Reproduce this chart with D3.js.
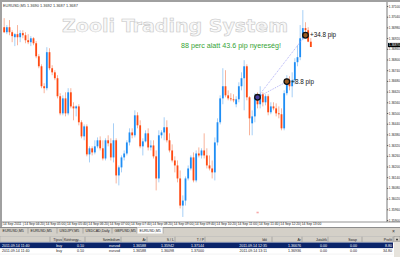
<!DOCTYPE html>
<html>
<head>
<meta charset="utf-8">
<script src="https://cdn.jsdelivr.net/npm/d3@7/dist/d3.min.js"></script>
<style>
  body { margin: 0; background: #d4d0c8; }
  svg { display: block; font-family: "Liberation Sans", Arial, sans-serif; }
</style>
</head>
<body>
<svg width="400" height="257"></svg>
<script>
// EURUSD M5, 14 Sep 2011 - one candle per 5 min, first one is 03:45
var opens = [1.36981,1.36953,1.36981,1.36953,1.36925,1.36942,1.36925,1.36948,1.36936,1.36908,
  1.36897,1.36919,1.36891,1.36818,1.36762,1.36650,1.36639,1.36841,1.36751,1.36728,
  1.36695,1.36594,1.36498,1.36582,1.36498,1.36616,1.36537,1.36526,1.36537,1.36448,
  1.36369,1.36425,1.36268,1.36302,1.36279,1.36313,1.36347,1.36302,1.36245,1.36347,
  1.36330,1.36251,1.36347,1.36150,1.36195,1.36251,1.36273,1.36335,1.36391,1.36375,
  1.36487,1.36431,1.36313,1.36341,1.36386,1.36307,1.36318,1.36257,1.36133,1.36375,
  1.36391,1.36420,1.36347,1.36290,1.36234,1.36206,1.36133,1.35981,1.36009,1.36133,
  1.36189,1.36251,1.36122,1.36273,1.36262,1.36290,1.36262,1.36206,1.36189,1.36167,
  1.36335,1.36448,1.36582,1.36650,1.36599,1.36582,1.36577,1.36549,1.36577,1.36650,
  1.36695,1.36762,1.36588,1.36442,1.36481,1.36588,1.36549,1.36605,1.36560,1.36594,
  1.36504,1.36537,1.36526,1.36498,1.36493,1.36414,1.36611,1.36684,1.36650,1.36684,
  1.36785,1.36813,1.36919,1.36976,1.36964,1.36900];
var highs = [1.37032,1.36993,1.37021,1.36964,1.36948,1.36993,1.36964,1.36964,1.36953,1.36942,
  1.36931,1.36925,1.36903,1.36830,1.36773,1.36667,1.36869,1.36863,1.36768,1.36740,
  1.36712,1.36611,1.36599,1.36616,1.36639,1.36639,1.36560,1.36543,1.36549,1.36459,
  1.36436,1.36436,1.36313,1.36313,1.36347,1.36363,1.36369,1.36347,1.36358,1.36375,
  1.36358,1.36442,1.36358,1.36206,1.36262,1.36290,1.36347,1.36414,1.36414,1.36515,
  1.36504,1.36459,1.36358,1.36403,1.36414,1.36347,1.36347,1.36290,1.36403,1.36403,
  1.36476,1.36459,1.36386,1.36324,1.36257,1.36234,1.36178,1.36038,1.36144,1.36206,
  1.36262,1.36279,1.36290,1.36307,1.36302,1.36386,1.36302,1.36262,1.36234,1.36363,
  1.36470,1.36599,1.36751,1.36740,1.36627,1.36611,1.36605,1.36594,1.36672,1.36728,
  1.36796,1.36773,1.36594,1.36515,1.36611,1.36616,1.36650,1.36616,1.36605,1.36605,
  1.36560,1.36560,1.36554,1.36537,1.36526,1.36627,1.36712,1.36706,1.36728,1.36807,
  1.36880,1.36993,1.37077,1.37009,1.36981,1.36920];
var lows = [1.36948,1.36942,1.36936,1.36897,1.36875,1.36880,1.36897,1.36919,1.36891,1.36886,
  1.36875,1.36880,1.36807,1.36751,1.36639,1.36611,1.36627,1.36740,1.36712,1.36684,
  1.36582,1.36487,1.36487,1.36481,1.36487,1.36526,1.36459,1.36481,1.36431,1.36358,
  1.36347,1.36257,1.36223,1.36262,1.36268,1.36302,1.36290,1.36234,1.36234,1.36313,
  1.36234,1.36223,1.36105,1.36094,1.36167,1.36234,1.36262,1.36318,1.36358,1.36363,
  1.36414,1.36302,1.36262,1.36335,1.36290,1.36290,1.36245,1.36066,1.36111,1.36358,
  1.36347,1.36335,1.36279,1.36223,1.36167,1.36111,1.35965,1.35917,1.35981,1.36122,
  1.36178,1.36111,1.36111,1.36251,1.36245,1.36245,1.36189,1.36178,1.36133,1.36122,
  1.36318,1.36436,1.36549,1.36588,1.36571,1.36566,1.36560,1.36532,1.36560,1.36627,
  1.36515,1.36571,1.36375,1.36375,1.36448,1.36526,1.36526,1.36537,1.36543,1.36487,
  1.36493,1.36515,1.36481,1.36470,1.36403,1.36403,1.36599,1.36627,1.36588,1.36661,
  1.36762,1.36796,1.36908,1.36931,1.36897,1.36870];
var closes = [1.36953,1.36981,1.36953,1.36931,1.36942,1.36925,1.36948,1.36936,1.36908,1.36897,
  1.36919,1.36891,1.36818,1.36762,1.36650,1.36639,1.36841,1.36751,1.36728,1.36695,
  1.36594,1.36498,1.36582,1.36498,1.36616,1.36537,1.36526,1.36537,1.36448,1.36369,
  1.36425,1.36268,1.36302,1.36279,1.36313,1.36347,1.36302,1.36245,1.36347,1.36330,
  1.36251,1.36347,1.36150,1.36195,1.36251,1.36273,1.36335,1.36391,1.36375,1.36487,
  1.36431,1.36313,1.36341,1.36386,1.36307,1.36318,1.36257,1.36133,1.36375,1.36391,
  1.36420,1.36347,1.36290,1.36234,1.36206,1.36133,1.35981,1.36009,1.36133,1.36189,
  1.36251,1.36122,1.36273,1.36262,1.36290,1.36262,1.36206,1.36189,1.36167,1.36335,
  1.36448,1.36582,1.36650,1.36599,1.36582,1.36577,1.36571,1.36577,1.36650,1.36695,
  1.36762,1.36588,1.36470,1.36481,1.36588,1.36549,1.36605,1.36560,1.36594,1.36504,
  1.36537,1.36526,1.36498,1.36493,1.36414,1.36611,1.36684,1.36650,1.36684,1.36785,
  1.36813,1.36919,1.36976,1.36964,1.36900,1.36870];
var firstBar = 1; // bar 0 = 03:40, where the first time label sits

var timeLabels = ["14 Sep 2011","14 Sep 04:20","14 Sep 05:00","14 Sep 05:40","14 Sep 06:20",
  "14 Sep 07:00","14 Sep 07:40","14 Sep 08:20","14 Sep 09:00","14 Sep 09:40","14 Sep 10:20",
  "14 Sep 11:00","14 Sep 11:40","14 Sep 12:20","14 Sep 13:00"];
var timeBars = [0,8,16,24,32,40,48,56,64,72,80,88,96,104,112];

var priceTicks = [1.37100,1.37040,1.36980,1.36920,1.36860,1.36800,1.36740,1.36680,1.36620,
  1.36560,1.36500,1.36440,1.36380,1.36320,1.36260,1.36200,1.36140,1.36080,1.36020,1.35960,1.35900];
var lastPrice = 1.36870;
var headerText = "EURUSD,M5  1.3690 1.3692 1.3687 1.3687";

// the two buy orders
var entryBar = 96, entryPrice = 1.36588, stopLoss = 1.35942;
var exitBars = [107, 114];
var exitPrices = [1.36676, 1.36936];
var exitLabels = ["+8.8 pip", "+34.8 pip"];

var tabNames = ["EURUSD,M5","EURUSD,M5","USDJPY,M5","USDCAD,Daily","GBPUSD,M5","EURUSD,M5"];
var colHeads = ["","Típus","Kötésegy...","Szimbólum","Ár","S / L","T / P","Idő","Ár","Jutalék","Swap","Profit"];
var orderRows = [
  ["2011.09.14 11:40","buy","0.10","eurusd","1.36588","1.35942","1.37144","2011.09.14 12:35","1.36676","0.00","0.00","8.80"],
  ["2011.09.14 11:40","buy","0.10","eurusd","1.36588","1.36098","1.37000","2011.09.14 13:11","1.36936","0.00","0.00","34.80"]
];

var svg = d3.select("svg");
var W = 400, H = 257;
var chartR = 387, chartB = 222;

// window frame
svg.append("rect").attr("width", W).attr("height", H).attr("fill", "#d4d0c8");
svg.append("rect").attr("width", W).attr("height", 228).attr("fill", "#a0a0a0");
svg.append("rect").attr("x", 2).attr("y", 2).attr("width", W - 2).attr("height", 225).attr("fill", "#fff");

var x = d3.scaleLinear().domain([0, 144]).range([1.5, 385.5]);
var y = d3.scaleLinear().domain([1.359, 1.371]).range([220, 6]);

svg.append("clipPath").attr("id", "clip")
  .append("rect").attr("x", 2).attr("y", 2).attr("width", chartR - 2).attr("height", chartB - 2);
var plot = svg.append("g").attr("clip-path", "url(#clip)");

// watermark + header
plot.append("text")
  .attr("x", 62).attr("y", 32)
  .attr("textLength", 226).attr("lengthAdjust", "spacingAndGlyphs")
  .style("font-family", "'DejaVu Sans', sans-serif").style("font-weight", "bold").style("font-size", "18px")
  .attr("fill", "#f8f8f8").attr("stroke", "#c4c4c4").attr("stroke-width", 0.55)
  .text("Zooli Trading System");

plot.append("text").attr("x", 3).attr("y", 6.5)
  .style("font-size", "3.9px").attr("fill", "#333").text(headerText);

plot.append("text").attr("x", 181).attr("y", 48)
  .attr("textLength", 100).attr("lengthAdjust", "spacingAndGlyphs")
  .style("font-size", "6.6px").attr("fill", "#36a336")
  .text("88 perc alatt 43.6 pip nyereség!");

// candles
var bars = opens.map(function(o, k) {
  return {i: k + firstBar, o: o, h: highs[k], l: lows[k], c: closes[k]};
});
function up(d) { return d.c >= d.o; }

plot.selectAll("line.wick").data(bars).enter().append("line")
  .attr("class", "wick")
  .attr("x1", function(d) { return x(d.i); }).attr("x2", function(d) { return x(d.i); })
  .attr("y1", function(d) { return y(d.h); }).attr("y2", function(d) { return y(d.l); })
  .attr("stroke", function(d) { return up(d) ? "#a6cff6" : "#f8b39b"; })
  .attr("stroke-width", 1);

plot.selectAll("rect.body").data(bars).enter().append("rect")
  .attr("class", "body")
  .attr("x", function(d) { return x(d.i) - 0.9; })
  .attr("width", 1.8)
  .attr("y", function(d) { return Math.min(y(d.o), y(d.c)); })
  .attr("height", function(d) { return Math.max(0.8, Math.abs(y(d.o) - y(d.c))); })
  .attr("fill", function(d) { return up(d) ? "#1e8ef5" : "#ff4a12"; });

// trade lines, markers, labels
exitBars.forEach(function(b, k) {
  plot.append("line")
    .attr("x1", x(entryBar)).attr("y1", y(entryPrice))
    .attr("x2", x(b)).attr("y2", y(exitPrices[k]))
    .attr("stroke", "#8f8ff2").attr("stroke-width", 0.7).attr("stroke-dasharray", "1,1");
});
plot.append("rect")
  .attr("x", x(entryBar) - 1).attr("y", y(stopLoss) - 0.8)
  .attr("width", 2.2).attr("height", 1.6).attr("fill", "#f7a8a8");

plot.append("circle")
  .attr("cx", x(entryBar)).attr("cy", y(entryPrice)).attr("r", 2.8)
  .attr("fill", "#4a3fa0").attr("stroke", "#111").attr("stroke-width", 1.3);

plot.selectAll("circle.exit").data(exitBars).enter().append("circle")
  .attr("class", "exit")
  .attr("cx", function(d) { return x(d); })
  .attr("cy", function(d, k) { return y(exitPrices[k]); })
  .attr("r", 2.8)
  .attr("fill", "#9a5a20").attr("stroke", "#111").attr("stroke-width", 1.3);

plot.selectAll("text.pip").data(exitBars).enter().append("text")
  .attr("class", "pip")
  .attr("x", function(d) { return x(d) + 4.5; })
  .attr("y", function(d, k) { return y(exitPrices[k]) + 2.2; })
  .style("font-size", "6.3px").attr("fill", "#111")
  .text(function(d, k) { return exitLabels[k]; });

// price axis
var yAxis = svg.append("g").attr("transform", "translate(" + chartR + ",0)")
  .call(d3.axisRight(y).tickValues(priceTicks).tickSize(1.2).tickPadding(0.6).tickFormat(d3.format(".5f")));
yAxis.select(".domain").remove();
yAxis.selectAll("line").attr("stroke", "#555");
yAxis.selectAll("text").style("font-size", "3.1px").style("font-family", "'Liberation Sans', Arial, sans-serif").attr("fill", "#222");

// current price box, sitting just above the tick it would cover (as the terminal shows it)
var lastY = y(lastPrice) - 2;
svg.append("rect").attr("x", chartR + 1).attr("y", lastY - 2.1)
  .attr("width", W - chartR).attr("height", 4.2).attr("fill", "#000");
svg.append("text").attr("x", chartR + 1.8).attr("y", lastY + 1.1)
  .style("font-size", "3.1px").attr("fill", "#fff").text(d3.format(".5f")(lastPrice));

svg.append("line").attr("x1", chartR).attr("x2", chartR).attr("y1", 2).attr("y2", chartB)
  .attr("stroke", "#555").attr("stroke-width", 0.8);
svg.append("line").attr("x1", 2).attr("x2", W).attr("y1", chartB).attr("y2", chartB)
  .attr("stroke", "#777").attr("stroke-width", 0.8);

// time axis
var xAxis = svg.append("g").attr("transform", "translate(0," + chartB + ")")
  .call(d3.axisBottom(x).tickValues(timeBars).tickSize(4)
    .tickFormat(function(d, k) { return timeLabels[k]; }));
xAxis.select(".domain").remove();
xAxis.selectAll("line").attr("stroke", "#888").attr("stroke-width", 0.5);
xAxis.selectAll("text")
  .attr("x", 1).attr("y", 1).attr("dy", "0.75em").attr("text-anchor", "start")
  .style("font-size", "3.3px").style("font-family", "'Liberation Sans', Arial, sans-serif").attr("fill", "#222");

// chart tabs
var tabEdges = [0, 28, 57, 83, 112, 137, 163];
svg.append("line").attr("x1", 0).attr("x2", W).attr("y1", 227.5).attr("y2", 227.5).attr("stroke", "#808080").attr("stroke-width", 0.6);
svg.append("rect").attr("x", tabEdges[5]).attr("y", 227.5).attr("width", tabEdges[6] - tabEdges[5]).attr("height", 6).attr("fill", "#fff");
svg.selectAll("line.tabsep").data(tabEdges.slice(1)).enter().append("line")
  .attr("class", "tabsep")
  .attr("x1", function(d) { return d; }).attr("x2", function(d) { return d; })
  .attr("y1", 228).attr("y2", 233.5).attr("stroke", "#808080").attr("stroke-width", 0.5);
svg.selectAll("text.tab").data(tabNames).enter().append("text")
  .attr("class", "tab")
  .attr("x", function(d, k) { return tabEdges[k] + 2.5; })
  .attr("y", 232)
  .style("font-size", "3.6px").attr("fill", "#222")
  .text(function(d) { return d; });
svg.append("text").attr("x", 392).attr("y", 233).style("font-size", "5px").attr("fill", "#333").text("×");

// terminal table
var colRight = [null, 62, 84, 120, 146, 174, 204, 267, 301, 327, 357, 392];
var colSeps = [50, 63, 85, 121, 147, 175, 205, 272, 302, 328, 362, 393];
svg.append("rect").attr("x", 0).attr("y", 236.5).attr("width", W).attr("height", 20.5).attr("fill", "#fff");
svg.append("rect").attr("x", 0).attr("y", 236.5).attr("width", W).attr("height", 5.5).attr("fill", "#d4d0c8")
  .attr("stroke", "#a0a0a0").attr("stroke-width", 0.4);
svg.selectAll("line.colsep").data(colSeps).enter().append("line")
  .attr("class", "colsep")
  .attr("x1", function(d) { return d; }).attr("x2", function(d) { return d; })
  .attr("y1", 236.8).attr("y2", 241.8).attr("stroke", "#808080").attr("stroke-width", 0.5);

function colX(k) { return k === 0 ? 2 : (k === 2 ? 64 : colRight[k]); }
function colAnchor(k) { return (k === 0 || k === 2) ? "start" : "end"; }

svg.selectAll("text.head").data(colHeads).enter().append("text")
  .attr("class", "head")
  .attr("x", function(d, k) { return colX(k); })
  .attr("y", 240.6)
  .attr("text-anchor", function(d, k) { return colAnchor(k); })
  .style("font-size", "3.5px").attr("fill", "#222")
  .text(function(d) { return d; });

var rowY = [242.5, 248.3];
svg.append("rect").attr("x", 0).attr("y", rowY[0]).attr("width", 393).attr("height", 5.6).attr("fill", "#0a246a");
svg.append("line").attr("x1", 0).attr("x2", 393).attr("y1", rowY[1] + 5.8).attr("y2", rowY[1] + 5.8)
  .attr("stroke", "#e0e0e0").attr("stroke-width", 0.4);

var rows = svg.selectAll("g.row").data(orderRows).enter().append("g")
  .attr("class", "row")
  .attr("transform", function(d, r) { return "translate(0," + (rowY[r] + 4) + ")"; });
rows.selectAll("text").data(function(d, r) { return d.map(function(v) { return {v: v, r: r}; }); })
  .enter().append("text")
  .attr("x", function(d, k) { return k === 2 ? colRight[2] : colX(k); })
  .attr("text-anchor", function(d, k) { return k === 0 ? "start" : "end"; })
  .style("font-size", "3.6px")
  .attr("fill", function(d) { return d.r === 0 ? "#fff" : "#222"; })
  .text(function(d) { return d.v; });

// scrollbar
svg.append("rect").attr("x", 394).attr("y", 236.5).attr("width", 6).attr("height", 20.5).attr("fill", "#e6e3dc");
svg.append("rect").attr("x", 394).attr("y", 236.5).attr("width", 6).attr("height", 5).attr("fill", "#d4d0c8")
  .attr("stroke", "#808080").attr("stroke-width", 0.4);
svg.append("path").attr("d", "M395.8,240.3 L397,238.3 L398.2,240.3 Z").attr("fill", "#111");
</script>
</body>
</html>
